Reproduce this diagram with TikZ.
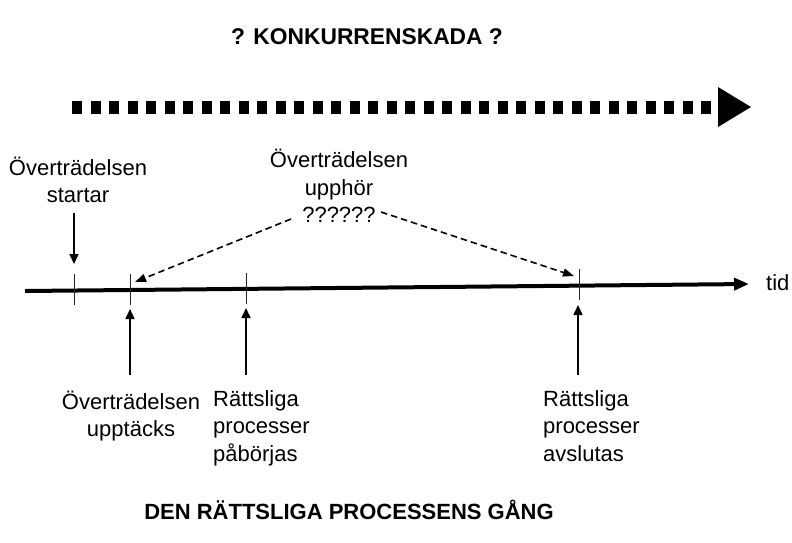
\documentclass[tikz,border=0pt]{standalone}
\usepackage{fontspec}
\setmainfont{Liberation Sans}
\usetikzlibrary{arrows.meta}
\begin{document}
\begin{tikzpicture}[x=1pt,y=-1pt,
  lbl/.style={inner sep=0pt,font=\fontsize{22}{27.5}\selectfont},
  ttl/.style={inner sep=0pt,font=\fontsize{22}{26}\selectfont\bfseries},
  thinarrow/.style={line width=1.6pt,-{Triangle[length=10pt,width=9pt]}},
  dasharrow/.style={line width=1.6pt,dash pattern=on 6.5pt off 4pt,-{Triangle[length=11pt,width=8pt]}},
  tickline/.style={line width=0.9pt,draw=black!85}]
\useasboundingbox[fill=white] (0,0) rectangle (792,542);
% top title and dashed arrow
\node[ttl,font=\fontsize{22.8}{26}\selectfont\bfseries] (konk) at (367,37) {? KONKURRENSKADA ?};
\coordinate (dstart) at (72,107);
\coordinate (dend) at (718,107);
\draw[line width=13pt,dash pattern=on 10pt off 8.5pt] (dstart) -- (dend);
\fill (718,87) -- (751,107) -- (718,127) -- cycle;
% timeline
\coordinate (tl0) at (25,291);
\coordinate (tl1) at (749,284);
\draw[line width=4pt,-{Triangle[length=15pt,width=12pt]}] (tl0) -- (tl1);
\node[lbl,anchor=west] (tid) at (766,283) {tid};
% ticks
\draw[tickline] (74,274) -- (74,305);
\draw[tickline] (130,274) -- (130,305);
\draw[tickline] (246,273) -- (246,304);
\draw[tickline] (579,269) -- (579,300);
% labels above
\node[lbl,align=center] (start) at (78,180) {Överträdelsen\\startar};
\coordinate (sA) at (74,213);
\coordinate (sB) at (74,264);
\draw[thinarrow] (sA) -- (sB);
\node[lbl,align=center] (upph) at (339,186) {Överträdelsen\\upphör\\??????};
\coordinate (uL) at (291,219);
\coordinate (uR) at (381,212);
\coordinate (eL) at (135,282);
\coordinate (eR) at (574,276);
\draw[dasharrow] (uL) -- (eL);
\draw[dasharrow] (uR) -- (eR);
% arrows below
\coordinate (b2s) at (130,375); \coordinate (b2e) at (130,309);
\coordinate (b3s) at (246,375); \coordinate (b3e) at (246,308);
\coordinate (b4s) at (578,375); \coordinate (b4e) at (578,305);
\draw[thinarrow] (b2s) -- (b2e);
\draw[thinarrow] (b3s) -- (b3e);
\draw[thinarrow] (b4s) -- (b4e);
\node[lbl,align=center] (upp) at (131,416) {Överträdelsen\\upptäcks};
\node[lbl,align=left,anchor=north west] (pab) at (213,390) {Rättsliga\\processer\\påbörjas};
\node[lbl,align=left,anchor=north west] (avs) at (543,390) {Rättsliga\\processer\\avslutas};
% bottom title
\node[ttl] (gang) at (349,510) {DEN RÄTTSLIGA PROCESSENS GÅNG};
\end{tikzpicture}
\end{document}
